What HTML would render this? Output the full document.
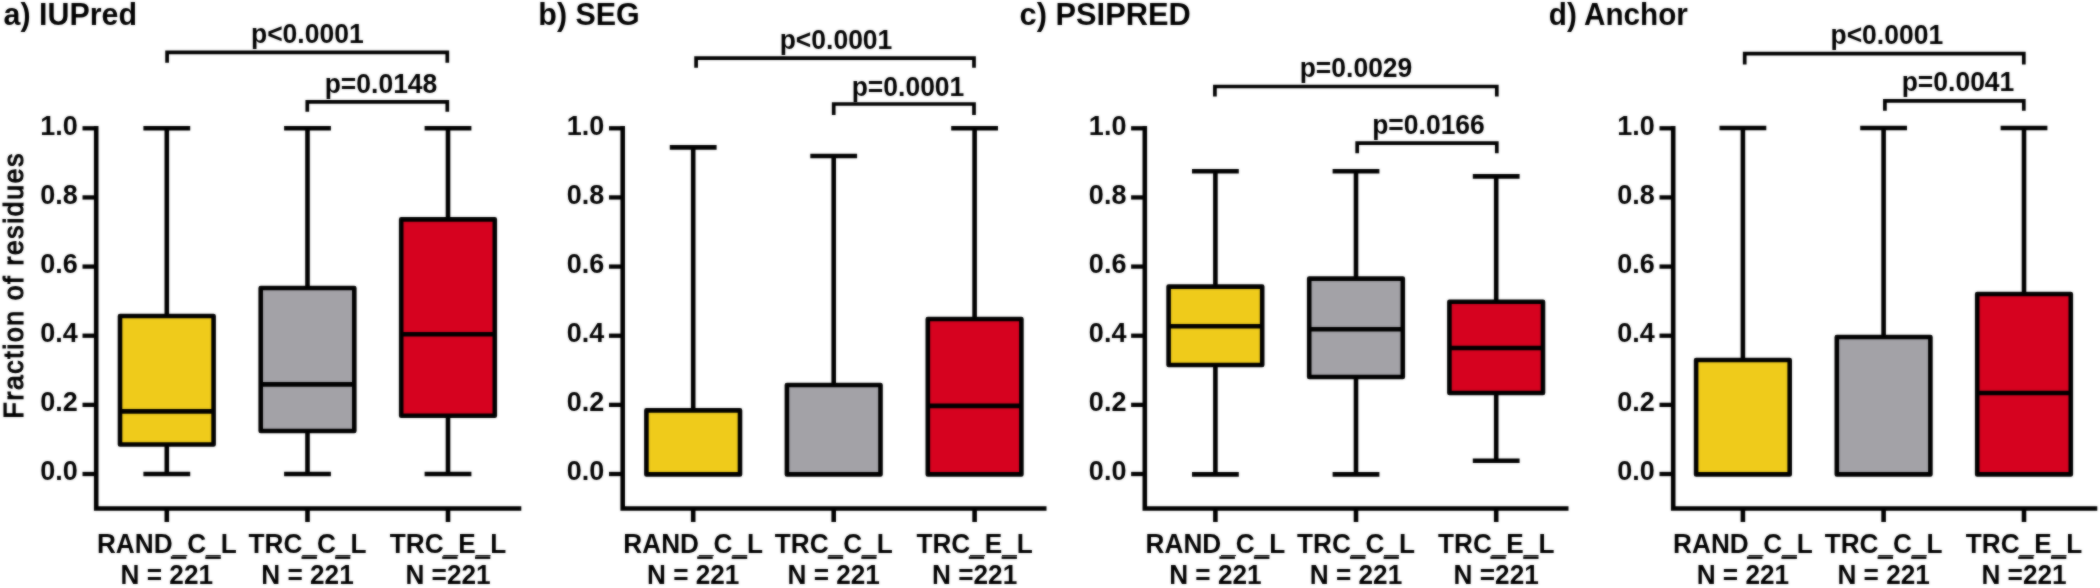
<!DOCTYPE html>
<html><head><meta charset="utf-8"><title>Figure</title>
<style>
html,body{margin:0;padding:0;background:#fff;}
svg{display:block;}
text{font-family:"Liberation Sans", sans-serif;font-weight:bold;fill:#000;}
.t{font-size:30px;}
.yl{font-size:26.5px;font-weight:normal;stroke:#000;stroke-width:1.1px;letter-spacing:1.7px;}
.k{font-size:27px;text-anchor:end;}
.x{font-size:26.2px;text-anchor:middle;}
.p{font-size:26.5px;text-anchor:middle;}
.u{stroke:#000;stroke-width:1.4px;}
.l{stroke:#000;stroke-width:4.6;fill:none;}
</style></head><body>
<svg width="2100" height="588" viewBox="0 0 2100 588">
<rect width="2100" height="588" fill="#fff"/>
<defs><filter id="soft" x="0" y="0" width="2100" height="588" filterUnits="userSpaceOnUse" color-interpolation-filters="sRGB"><feGaussianBlur in="SourceGraphic" stdDeviation="0.8" result="b"/><feComposite in="SourceGraphic" in2="b" operator="arithmetic" k1="0" k2="0.45" k3="0.55" k4="0"/></filter></defs>
<g filter="url(#soft)">
<rect width="2100" height="588" fill="#fff"/>
<text class="yl" transform="translate(22.7,285.2) rotate(-90) scale(1,1.035)" text-anchor="middle">Fraction of residues</text>
<text class="t" style="font-size:30.4px" transform="translate(3.60,24.50) scale(1,1.03)">a) IUPred</text>
<path class="l" d="M96.2 126.00000000000001 V508.5 H521.3"/>
<path class="l" style="stroke-width:4.3" d="M82.50 474.00 H96.2"/>
<text class="k" transform="translate(77.80,480.20) scale(1,1.035)">0.0</text>
<path class="l" style="stroke-width:4.3" d="M82.50 404.86 H96.2"/>
<text class="k" transform="translate(77.80,411.06) scale(1,1.035)">0.2</text>
<path class="l" style="stroke-width:4.3" d="M82.50 335.72 H96.2"/>
<text class="k" transform="translate(77.80,341.92) scale(1,1.035)">0.4</text>
<path class="l" style="stroke-width:4.3" d="M82.50 266.58 H96.2"/>
<text class="k" transform="translate(77.80,272.78) scale(1,1.035)">0.6</text>
<path class="l" style="stroke-width:4.3" d="M82.50 197.44 H96.2"/>
<text class="k" transform="translate(77.80,203.64) scale(1,1.035)">0.8</text>
<path class="l" style="stroke-width:4.3" d="M82.50 128.30 H96.2"/>
<text class="k" transform="translate(77.80,134.50) scale(1,1.035)">1.0</text>
<path class="l" d="M166.8 508.5 V522.0"/>
<path class="l" d="M143.4 128.3 H190.20000000000002 M166.8 128.3 V316"/>
<path class="l" d="M143.4 474 H190.20000000000002 M166.8 474 V444.5"/>
<rect x="120.00000000000001" y="316" width="93.6" height="128.5" fill="#EFCB1B" stroke="#000" stroke-width="4.6" stroke-linejoin="round"/>
<path class="l" d="M120.00000000000001 411.4 H213.60000000000002"/>
<text class="x" transform="translate(166.80,552.90) scale(1,1.06)">RAND_C_L</text>
<rect x="170.80" y="556.4" width="15.50" height="2.5" fill="#000"/>
<rect x="205.30" y="556.4" width="15.50" height="2.5" fill="#000"/>
<text class="x" transform="translate(166.80,584.00) scale(1,1.045)">N = 221</text>
<path class="l" d="M307.5 508.5 V522.0"/>
<path class="l" d="M284.1 128.3 H330.9 M307.5 128.3 V288"/>
<path class="l" d="M284.1 474 H330.9 M307.5 474 V431"/>
<rect x="260.7" y="288" width="93.6" height="143" fill="#A3A2A7" stroke="#000" stroke-width="4.6" stroke-linejoin="round"/>
<path class="l" d="M260.7 384.4 H354.3"/>
<text class="x" transform="translate(307.50,552.90) scale(1,1.06)">TRC_C_L</text>
<rect x="301.50" y="556.4" width="15.40" height="2.5" fill="#000"/>
<rect x="335.10" y="556.4" width="15.20" height="2.5" fill="#000"/>
<text class="x" transform="translate(307.50,584.00) scale(1,1.045)">N = 221</text>
<path class="l" d="M448 508.5 V522.0"/>
<path class="l" d="M424.6 128.3 H471.4 M448 128.3 V219.4"/>
<path class="l" d="M424.6 474 H471.4 M448 474 V415.7"/>
<rect x="401.2" y="219.4" width="93.6" height="196.29999999999998" fill="#D6021F" stroke="#000" stroke-width="4.6" stroke-linejoin="round"/>
<path class="l" d="M401.2 334.2 H494.8"/>
<text class="x" transform="translate(448.00,552.90) scale(1,1.06)">TRC_E_L</text>
<rect x="442.20" y="556.4" width="15.30" height="2.5" fill="#000"/>
<rect x="475.00" y="556.4" width="15.30" height="2.5" fill="#000"/>
<text class="x" transform="translate(448.00,584.00) scale(1,1.045)">N =221</text>
<path class="l" style="stroke-width:3.7" d="M167.1 62.8 V52.4 H447.3 V62.8" stroke-linejoin="miter"/>
<text class="p" transform="translate(307.30,42.50) scale(1,1.035)">p&lt;0.0001</text>
<path class="l" style="stroke-width:3.7" d="M307.3 111.8 V101.8 H447.3 V111.8" stroke-linejoin="miter"/>
<text class="p" transform="translate(381.00,92.80) scale(1,1.035)">p=0.0148</text>
<text class="t" style="font-size:30.45px" transform="translate(538.30,24.50) scale(1,1.03)">b) SEG</text>
<path class="l" d="M622.7 126.00000000000001 V508.5 H1046.5"/>
<path class="l" style="stroke-width:4.3" d="M609.00 474.00 H622.7"/>
<text class="k" transform="translate(604.30,480.20) scale(1,1.035)">0.0</text>
<path class="l" style="stroke-width:4.3" d="M609.00 404.86 H622.7"/>
<text class="k" transform="translate(604.30,411.06) scale(1,1.035)">0.2</text>
<path class="l" style="stroke-width:4.3" d="M609.00 335.72 H622.7"/>
<text class="k" transform="translate(604.30,341.92) scale(1,1.035)">0.4</text>
<path class="l" style="stroke-width:4.3" d="M609.00 266.58 H622.7"/>
<text class="k" transform="translate(604.30,272.78) scale(1,1.035)">0.6</text>
<path class="l" style="stroke-width:4.3" d="M609.00 197.44 H622.7"/>
<text class="k" transform="translate(604.30,203.64) scale(1,1.035)">0.8</text>
<path class="l" style="stroke-width:4.3" d="M609.00 128.30 H622.7"/>
<text class="k" transform="translate(604.30,134.50) scale(1,1.035)">1.0</text>
<path class="l" d="M693.2 508.5 V522.0"/>
<path class="l" d="M669.8000000000001 147.4 H716.6 M693.2 147.4 V410.4"/>
<rect x="646.4000000000001" y="410.4" width="93.6" height="64.0" fill="#EFCB1B" stroke="#000" stroke-width="4.6" stroke-linejoin="round"/>
<text class="x" transform="translate(693.20,552.90) scale(1,1.06)">RAND_C_L</text>
<rect x="697.20" y="556.4" width="15.50" height="2.5" fill="#000"/>
<rect x="731.70" y="556.4" width="15.50" height="2.5" fill="#000"/>
<text class="x" transform="translate(693.20,584.00) scale(1,1.045)">N = 221</text>
<path class="l" d="M833.7 508.5 V522.0"/>
<path class="l" d="M810.3000000000001 156 H857.1 M833.7 156 V385"/>
<rect x="786.9000000000001" y="385" width="93.6" height="89.39999999999998" fill="#A3A2A7" stroke="#000" stroke-width="4.6" stroke-linejoin="round"/>
<text class="x" transform="translate(833.70,552.90) scale(1,1.06)">TRC_C_L</text>
<rect x="827.70" y="556.4" width="15.40" height="2.5" fill="#000"/>
<rect x="861.30" y="556.4" width="15.20" height="2.5" fill="#000"/>
<text class="x" transform="translate(833.70,584.00) scale(1,1.045)">N = 221</text>
<path class="l" d="M974.6 508.5 V522.0"/>
<path class="l" d="M951.2 128.3 H998.0 M974.6 128.3 V319"/>
<rect x="927.8000000000001" y="319" width="93.6" height="155.39999999999998" fill="#D6021F" stroke="#000" stroke-width="4.6" stroke-linejoin="round"/>
<path class="l" d="M927.8000000000001 405.9 H1021.4"/>
<text class="x" transform="translate(974.60,552.90) scale(1,1.06)">TRC_E_L</text>
<rect x="968.80" y="556.4" width="15.30" height="2.5" fill="#000"/>
<rect x="1001.60" y="556.4" width="15.30" height="2.5" fill="#000"/>
<text class="x" transform="translate(974.60,584.00) scale(1,1.045)">N =221</text>
<path class="l" style="stroke-width:3.7" d="M696.1 67.8 V58.1 H974.0 V67.8" stroke-linejoin="miter"/>
<text class="p" transform="translate(836.00,48.90) scale(1,1.035)">p&lt;0.0001</text>
<path class="l" style="stroke-width:3.7" d="M833.7 115 V104.0 H974.0 V115" stroke-linejoin="miter"/>
<text class="p" transform="translate(908.00,96.00) scale(1,1.035)">p=0.0001</text>
<text class="t" style="font-size:30.8px" transform="translate(1019.60,24.50) scale(1,1.03)">c) PSIPRED</text>
<path class="l" d="M1144.8 126.00000000000001 V508.5 H1568.5"/>
<path class="l" style="stroke-width:4.3" d="M1131.10 474.00 H1144.8"/>
<text class="k" transform="translate(1126.40,480.20) scale(1,1.035)">0.0</text>
<path class="l" style="stroke-width:4.3" d="M1131.10 404.86 H1144.8"/>
<text class="k" transform="translate(1126.40,411.06) scale(1,1.035)">0.2</text>
<path class="l" style="stroke-width:4.3" d="M1131.10 335.72 H1144.8"/>
<text class="k" transform="translate(1126.40,341.92) scale(1,1.035)">0.4</text>
<path class="l" style="stroke-width:4.3" d="M1131.10 266.58 H1144.8"/>
<text class="k" transform="translate(1126.40,272.78) scale(1,1.035)">0.6</text>
<path class="l" style="stroke-width:4.3" d="M1131.10 197.44 H1144.8"/>
<text class="k" transform="translate(1126.40,203.64) scale(1,1.035)">0.8</text>
<path class="l" style="stroke-width:4.3" d="M1131.10 128.30 H1144.8"/>
<text class="k" transform="translate(1126.40,134.50) scale(1,1.035)">1.0</text>
<path class="l" d="M1215.4 508.5 V522.0"/>
<path class="l" d="M1192.0 171.2 H1238.8000000000002 M1215.4 171.2 V286.6"/>
<path class="l" d="M1192.0 474.4 H1238.8000000000002 M1215.4 474.4 V365"/>
<rect x="1168.6000000000001" y="286.6" width="93.6" height="78.39999999999998" fill="#EFCB1B" stroke="#000" stroke-width="4.6" stroke-linejoin="round"/>
<path class="l" d="M1168.6000000000001 326.2 H1262.2"/>
<text class="x" transform="translate(1215.40,552.90) scale(1,1.06)">RAND_C_L</text>
<rect x="1219.40" y="556.4" width="15.50" height="2.5" fill="#000"/>
<rect x="1253.90" y="556.4" width="15.50" height="2.5" fill="#000"/>
<text class="x" transform="translate(1215.40,584.00) scale(1,1.045)">N = 221</text>
<path class="l" d="M1356 508.5 V522.0"/>
<path class="l" d="M1332.6 171.2 H1379.4 M1356 171.2 V278.6"/>
<path class="l" d="M1332.6 474.4 H1379.4 M1356 474.4 V377"/>
<rect x="1309.2" y="278.6" width="93.6" height="98.39999999999998" fill="#A3A2A7" stroke="#000" stroke-width="4.6" stroke-linejoin="round"/>
<path class="l" d="M1309.2 329.2 H1402.8"/>
<text class="x" transform="translate(1356.00,552.90) scale(1,1.06)">TRC_C_L</text>
<rect x="1350.00" y="556.4" width="15.40" height="2.5" fill="#000"/>
<rect x="1383.60" y="556.4" width="15.20" height="2.5" fill="#000"/>
<text class="x" transform="translate(1356.00,584.00) scale(1,1.045)">N = 221</text>
<path class="l" d="M1496.2 508.5 V522.0"/>
<path class="l" d="M1472.8 176.4 H1519.6000000000001 M1496.2 176.4 V301.8"/>
<path class="l" d="M1472.8 460.7 H1519.6000000000001 M1496.2 460.7 V393"/>
<rect x="1449.4" y="301.8" width="93.6" height="91.19999999999999" fill="#D6021F" stroke="#000" stroke-width="4.6" stroke-linejoin="round"/>
<path class="l" d="M1449.4 348 H1543.0"/>
<text class="x" transform="translate(1496.20,552.90) scale(1,1.06)">TRC_E_L</text>
<rect x="1490.40" y="556.4" width="15.30" height="2.5" fill="#000"/>
<rect x="1523.20" y="556.4" width="15.30" height="2.5" fill="#000"/>
<text class="x" transform="translate(1496.20,584.00) scale(1,1.045)">N =221</text>
<path class="l" style="stroke-width:3.7" d="M1214.9 96.5 V86.5 H1496.8 V96.5" stroke-linejoin="miter"/>
<text class="p" transform="translate(1356.00,77.40) scale(1,1.035)">p=0.0029</text>
<path class="l" style="stroke-width:3.7" d="M1357.2 153.2 V143.1 H1496.8 V153.2" stroke-linejoin="miter"/>
<text class="p" transform="translate(1428.50,134.00) scale(1,1.035)">p=0.0166</text>
<text class="t" style="font-size:29.7px" transform="translate(1548.85,24.50) scale(1,1.03)">d) Anchor</text>
<path class="l" d="M1673.2 126.00000000000001 V508.5 H2097.3"/>
<path class="l" style="stroke-width:4.3" d="M1659.50 474.00 H1673.2"/>
<text class="k" transform="translate(1654.80,480.20) scale(1,1.035)">0.0</text>
<path class="l" style="stroke-width:4.3" d="M1659.50 404.86 H1673.2"/>
<text class="k" transform="translate(1654.80,411.06) scale(1,1.035)">0.2</text>
<path class="l" style="stroke-width:4.3" d="M1659.50 335.72 H1673.2"/>
<text class="k" transform="translate(1654.80,341.92) scale(1,1.035)">0.4</text>
<path class="l" style="stroke-width:4.3" d="M1659.50 266.58 H1673.2"/>
<text class="k" transform="translate(1654.80,272.78) scale(1,1.035)">0.6</text>
<path class="l" style="stroke-width:4.3" d="M1659.50 197.44 H1673.2"/>
<text class="k" transform="translate(1654.80,203.64) scale(1,1.035)">0.8</text>
<path class="l" style="stroke-width:4.3" d="M1659.50 128.30 H1673.2"/>
<text class="k" transform="translate(1654.80,134.50) scale(1,1.035)">1.0</text>
<path class="l" d="M1742.9 508.5 V522.0"/>
<path class="l" d="M1719.5 128.0 H1766.3000000000002 M1742.9 128.0 V360"/>
<rect x="1696.1000000000001" y="360" width="93.6" height="114.39999999999998" fill="#EFCB1B" stroke="#000" stroke-width="4.6" stroke-linejoin="round"/>
<text class="x" transform="translate(1742.90,552.90) scale(1,1.06)">RAND_C_L</text>
<rect x="1746.90" y="556.4" width="15.50" height="2.5" fill="#000"/>
<rect x="1781.40" y="556.4" width="15.50" height="2.5" fill="#000"/>
<text class="x" transform="translate(1742.90,584.00) scale(1,1.045)">N = 221</text>
<path class="l" d="M1883.6 508.5 V522.0"/>
<path class="l" d="M1860.1999999999998 128.0 H1907.0 M1883.6 128.0 V337"/>
<rect x="1836.8" y="337" width="93.6" height="137.39999999999998" fill="#A3A2A7" stroke="#000" stroke-width="4.6" stroke-linejoin="round"/>
<text class="x" transform="translate(1883.60,552.90) scale(1,1.06)">TRC_C_L</text>
<rect x="1877.60" y="556.4" width="15.40" height="2.5" fill="#000"/>
<rect x="1911.20" y="556.4" width="15.20" height="2.5" fill="#000"/>
<text class="x" transform="translate(1883.60,584.00) scale(1,1.045)">N = 221</text>
<path class="l" d="M2024.0 508.5 V522.0"/>
<path class="l" d="M2000.6 128.0 H2047.4 M2024.0 128.0 V294"/>
<rect x="1977.2" y="294" width="93.6" height="180.39999999999998" fill="#D6021F" stroke="#000" stroke-width="4.6" stroke-linejoin="round"/>
<path class="l" d="M1977.2 393 H2070.8"/>
<text class="x" transform="translate(2024.00,552.90) scale(1,1.06)">TRC_E_L</text>
<rect x="2018.20" y="556.4" width="15.30" height="2.5" fill="#000"/>
<rect x="2051.00" y="556.4" width="15.30" height="2.5" fill="#000"/>
<text class="x" transform="translate(2024.00,584.00) scale(1,1.045)">N =221</text>
<path class="l" style="stroke-width:3.7" d="M1744.7 64.5 V53.7 H2023.8 V64.5" stroke-linejoin="miter"/>
<text class="p" transform="translate(1886.80,43.50) scale(1,1.035)">p&lt;0.0001</text>
<path class="l" style="stroke-width:3.7" d="M1884.9 110.7 V100.8 H2023.8 V110.7" stroke-linejoin="miter"/>
<text class="p" transform="translate(1958.00,91.00) scale(1,1.035)">p=0.0041</text>
</g>
</svg>
</body></html>
